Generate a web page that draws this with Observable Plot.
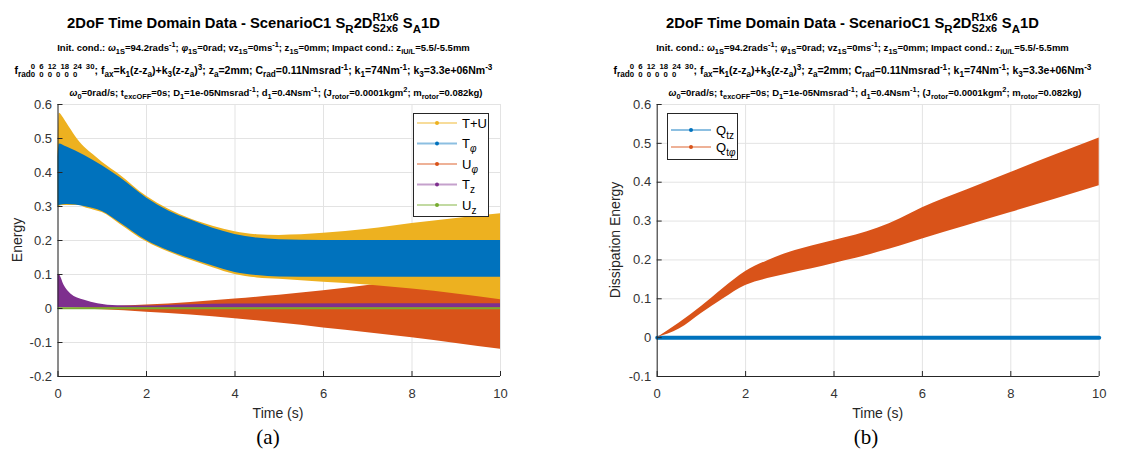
<!DOCTYPE html>
<html><head><meta charset="utf-8">
<script src="https://cdn.jsdelivr.net/npm/d3@7"></script>
<script src="https://cdn.jsdelivr.net/npm/@observablehq/plot@0.6"></script>
<style>
body{margin:0;background:#fff;font-family:"Liberation Sans",Arial,sans-serif;}
#wrap{position:relative;width:1138px;height:452px;overflow:hidden;background:#fff}
.panel{position:absolute;top:0}
.tl{position:absolute;white-space:nowrap;transform:translateX(-50%);font-weight:bold;color:#000;line-height:16px}
.tl sub{font-size:0.78em;vertical-align:-0.4em;line-height:0}
.tl sup{font-size:0.78em;vertical-align:0.55em;line-height:0}
.stack{display:inline-block;font-size:0.74em;line-height:1;vertical-align:-0.35em;text-align:left}
.stack span{display:block}
.lab{position:absolute;white-space:nowrap;transform:translate(-50%,-50%);color:#262626;font-size:14px}
.cap{position:absolute;white-space:nowrap;transform:translate(-50%,-50%);color:#000;font-size:21px;font-family:"Liberation Serif","Times New Roman",serif}
.leg{position:absolute;background:#fff;border:1px solid #262626;box-sizing:border-box}
</style></head>
<body><div id="wrap"></div>
<script>
// ---------- data ----------
const timeTicks = [0, 2, 4, 6, 8, 10];
const energyTicks = [-0.2, -0.1, 0, 0.1, 0.2, 0.3, 0.4, 0.5, 0.6];
const dissTicks = [-0.1, 0, 0.1, 0.2, 0.3, 0.4, 0.5, 0.6];

// (a) envelopes (min / max of the fast oscillation)
const tTU   = [0, 0.03, 0.1, 0.2, 0.3, 0.4, 0.5, 0.6, 0.8, 1, 1.4, 2, 2.5, 3, 3.5, 4, 4.5, 5, 6, 7, 8, 9, 10];
const TU_hi = [0.45, 0.574, 0.565, 0.545, 0.525, 0.505, 0.488, 0.474, 0.452, 0.43, 0.393, 0.33, 0.292, 0.263, 0.242, 0.226, 0.217, 0.215, 0.221, 0.233, 0.25, 0.265, 0.279];
const TU_lo = [0.298, 0.3, 0.303, 0.303, 0.303, 0.303, 0.303, 0.297, 0.29, 0.282, 0.248, 0.196, 0.166, 0.142, 0.12, 0.1, 0.09, 0.086, 0.077, 0.069, 0.057, 0.043, 0.026];

const tTphi   = [0, 0.03, 0.2, 0.6, 1, 1.4, 2, 2.5, 3, 3.5, 4, 4.5, 5, 6, 10];
const Tphi_hi = [0.445, 0.484, 0.475, 0.45, 0.42, 0.385, 0.325, 0.287, 0.26, 0.236, 0.218, 0.207, 0.202, 0.2, 0.2];
const Tphi_lo = [0.3, 0.303, 0.306, 0.3, 0.285, 0.252, 0.2, 0.17, 0.146, 0.125, 0.106, 0.097, 0.093, 0.092, 0.092];

const tUphi   = [0, 1, 2, 3, 4, 5, 6, 7, 8, 9, 10];
const Uphi_hi = [0, 0.004, 0.01, 0.018, 0.028, 0.039, 0.052, 0.068, 0.083, 0.097, 0.11];
const Uphi_lo = [0, -0.004, -0.011, -0.019, -0.03, -0.043, -0.057, -0.071, -0.086, -0.103, -0.12];

const tTz   = [0, 0.02, 0.14, 0.29, 0.44, 0.6, 0.9, 1.35, 1.95, 3, 4, 10];
const Tz_hi = [0.1, 0.1, 0.068, 0.043, 0.031, 0.024, 0.014, 0.008, 0.007, 0.011, 0.013, 0.014];
const Tz_lo = [0.002, 0.002, 0.002, 0.002, 0.002, 0.002, 0.002, 0.002, 0.002, 0.002, 0.002, 0.002];

const tUz   = [0, 10];
const Uz_hi = [0.002, 0.002];
const Uz_lo = [-0.004, -0.004];

// (b)
const tQtz = [0, 10];
const Qtz  = [0, 0];
const tQtphi   = [0, 0.5, 1, 1.5, 2, 2.5, 3, 3.5, 4, 4.5, 5, 5.5, 6, 7, 8, 9, 10];
const Qtphi_hi = [0, 0.038, 0.08, 0.127, 0.17, 0.198, 0.22, 0.236, 0.25, 0.264, 0.282, 0.306, 0.334, 0.38, 0.425, 0.47, 0.514];
const Qtphi_lo = [0, 0.022, 0.062, 0.1, 0.134, 0.152, 0.165, 0.177, 0.191, 0.204, 0.22, 0.236, 0.254, 0.288, 0.322, 0.356, 0.391];

const C = {blue:"#0072BD", orange:"#D95319", yellow:"#EDB120", purple:"#7E2F8E", green:"#77AC30"};

const band = (t, lo, hi) => t.map((v, i) => ({t: v, lo: lo[i], hi: hi[i]}));
const fmt = d => d === 0 ? "0" : String(+d.toFixed(1));
const gridCol = "#e3e3e3", axCol = "#262626";
const baseStyle = {fontFamily:"'Liberation Sans', Arial, sans-serif", fontSize:"13px", color:"#333", background:"transparent", overflow:"visible"};

function frame(yTicks){
  return [
    Plot.gridX(timeTicks, {stroke:gridCol, strokeOpacity:1}),
    Plot.gridY(yTicks, {stroke:gridCol, strokeOpacity:1})
  ];
}
function axes(yTicks){
  return [
    Plot.axisX({ticks: timeTicks, tickSize:-5, tickPadding:17, label:null, tickFormat:d=>String(d), stroke:axCol}),
    Plot.axisY({ticks: yTicks, tickSize:-5, tickPadding:11, label:null, tickFormat:fmt, stroke:axCol}),
    Plot.ruleX([0], {stroke:axCol}),
    Plot.ruleY([yTicks[0]], {stroke:axCol})
  ];
}
const area = (t, lo, hi, fill) => Plot.areaY(band(t, lo, hi), {x:"t", y1:"lo", y2:"hi", fill, curve:"monotone-x"});

const left = Plot.plot({
  width:569, height:452,
  marginLeft:57.5, marginRight:69, marginTop:104, marginBottom:76,
  x:{domain:[0,10]}, y:{domain:[-0.2,0.6]},
  style: baseStyle,
  marks:[
    ...frame(energyTicks),
    area(tUphi, Uphi_lo, Uphi_hi, C.orange),
    area(tTU, TU_lo, TU_hi, C.yellow),
    area(tTphi, Tphi_lo, Tphi_hi, C.blue),
    area(tTz, Tz_lo, Tz_hi, C.purple),
    area(tUz, Uz_lo, Uz_hi, C.green),
    ...axes(energyTicks)
  ]
});

const right = Plot.plot({
  width:569, height:452,
  marginLeft:87.7, marginRight:39.3, marginTop:104, marginBottom:76,
  x:{domain:[0,10]}, y:{domain:[-0.1,0.6]},
  style: baseStyle,
  marks:[
    ...frame(dissTicks),
    Plot.lineY(tQtz.map((t,i)=>({t, v:Qtz[i]})), {x:"t", y:"v", stroke:C.blue, strokeWidth:4}),
    area(tQtphi, Qtphi_lo, Qtphi_hi, C.orange),
    ...axes(dissTicks)
  ]
});

const wrap = document.getElementById("wrap");
function place(node, x){ const d=document.createElement("div"); d.className="panel"; d.style.left=x+"px"; d.appendChild(node); wrap.appendChild(d); }
place(left, 0); place(right, 569);

function add(html, cls, x, y, extra){
  const d=document.createElement("div"); d.className=cls; d.innerHTML=html;
  d.style.left=x+"px"; d.style.top=y+"px";
  if(extra) Object.assign(d.style, extra);
  wrap.appendChild(d); return d;
}
// size a title line towards the width it spans in the reference (within limits)
function fitLine(html, cx, top, baseSize, targetW, minS, maxS){
  const d = add(html, "tl", cx, top, {fontSize: baseSize+"px"});
  const w = d.getBoundingClientRect().width;
  const fs = Math.max(minS, Math.min(maxS, baseSize * targetW / w));
  d.style.fontSize = fs.toFixed(2) + "px";
  return d;
}

const title1 = '2DoF Time Domain Data - ScenarioC1 S<sub>R</sub>2D<span class="stack"><span>R1x6</span><span>S2x6</span></span> S<sub>A</sub>1D';
const title2 = 'Init. cond.: <i>ω</i><sub>1S</sub>=94.2rads<sup>-1</sup>; <i>φ</i><sub>1S</sub>=0rad; vz<sub>1S</sub>=0ms<sup>-1</sup>; z<sub>1S</sub>=0mm; Impact cond.: z<sub>iU/L</sub>=5.5/-5.5mm';
const title3 = 'f<sub>rad</sub><span class="stack" style="word-spacing:0.25em"><span>0 6 12 18 24 30</span><span>0 0 0 0 0 0</span></span>; f<sub>ax</sub>=k<sub>1</sub>(z-z<sub>a</sub>)+k<sub>3</sub>(z-z<sub>a</sub>)<sup>3</sup>; z<sub>a</sub>=2mm; C<sub>rad</sub>=0.11Nmsrad<sup>-1</sup>; k<sub>1</sub>=74Nm<sup>-1</sup>; k<sub>3</sub>=3.3e+06Nm<sup>-3</sup>';
const title4 = '<i>ω</i><sub>0</sub>=0rad/s; t<sub>excOFF</sub>=0s; D<sub>1</sub>=1e-05Nmsrad<sup>-1</sup>; d<sub>1</sub>=0.4Nsm<sup>-1</sup>; (J<sub>rotor</sub>=0.0001kgm<sup>2</sup>; m<sub>rotor</sub>=0.082kg)';

[0, 599].forEach(ox => {
  fitLine(title1, 253.5 + ox, 12, 15, 373, 14, 16);
  fitLine(title2, 263.5 + ox, 40, 10, 367, 9.5, 10.5);
  fitLine(title3, 253.5 + ox, 62, 10, 487, 9.5, 10.5);
  fitLine(title4, 276 + ox, 85, 10, 380, 9.5, 10.5);
});

add("Time (s)", "lab", 278, 413);
add("Time (s)", "lab", 877.7, 413);
add("Energy", "lab", 17, 240, {transform:"translate(-50%,-50%) rotate(-90deg)"});
add("Dissipation Energy", "lab", 615, 240, {transform:"translate(-50%,-50%) rotate(-90deg)"});
add("(a)", "cap", 268, 437);
add("(b)", "cap", 866, 437);

// legends
function legend(x, y, w, h, items, dy){
  const d = document.createElement("div"); d.className="leg";
  Object.assign(d.style, {left:x+"px", top:y+"px", width:w+"px", height:h+"px"});
  const ns="http://www.w3.org/2000/svg";
  const svg=document.createElementNS(ns,"svg"); svg.setAttribute("width",w); svg.setAttribute("height",h);
  svg.style.position="absolute"; svg.style.left="-1px"; svg.style.top="-1px";
  items.forEach((it,i)=>{
    const cy = dy[0] + i*dy[1];
    const l=document.createElementNS(ns,"line");
    Object.entries({x1:4,x2:44,y1:cy,y2:cy,stroke:it.c,"stroke-width":2,"stroke-opacity":0.45}).forEach(([k,v])=>l.setAttribute(k,v));
    svg.appendChild(l);
    const c=document.createElementNS(ns,"circle");
    Object.entries({cx:24,cy:cy,r:2,fill:it.c}).forEach(([k,v])=>c.setAttribute(k,v));
    svg.appendChild(c);
    const t=document.createElementNS(ns,"text");
    t.setAttribute("x",49); t.setAttribute("y",cy+4.5);
    t.setAttribute("font-size","13"); t.setAttribute("fill","#000");
    t.innerHTML = it.label;
    svg.appendChild(t);
  });
  d.appendChild(svg); wrap.appendChild(d);
}
const sub = s => `<tspan dy="4" font-size="10">${s}</tspan>`;
legend(413, 113, 76, 104, [
  {c:C.yellow, label:"T+U"},
  {c:C.blue, label:"T"+sub('<tspan font-style="italic">φ</tspan>')},
  {c:C.orange, label:"U"+sub('<tspan font-style="italic">φ</tspan>')},
  {c:C.purple, label:"T"+sub("z")},
  {c:C.green, label:"U"+sub("z")}
], [10, 20.5]);
legend(667, 113, 71, 47, [
  {c:C.blue, label:"Q"+sub("tz")},
  {c:C.orange, label:"Q"+sub('t<tspan font-style="italic">φ</tspan>')}
], [17, 17]);
</script>
</body></html>
